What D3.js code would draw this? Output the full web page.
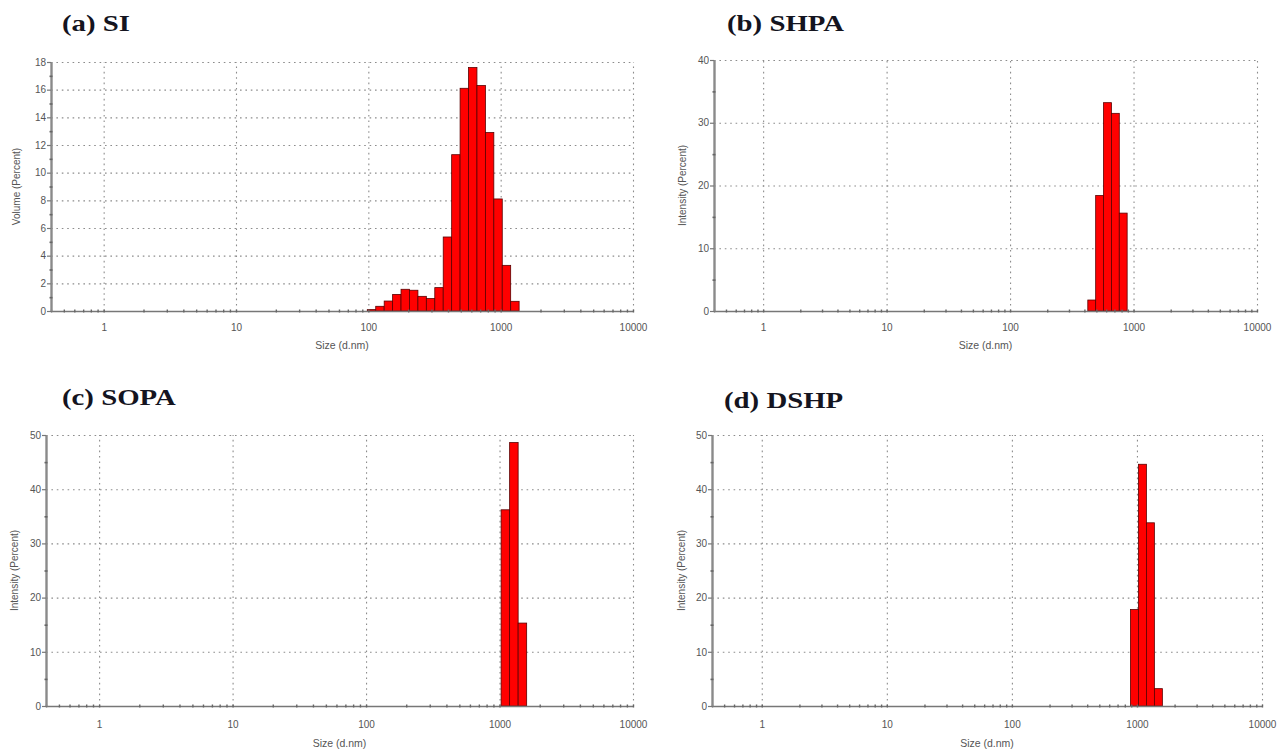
<!DOCTYPE html>
<html>
<head>
<meta charset="utf-8">
<script src="https://cdn.jsdelivr.net/npm/d3@7"></script>
<style>
  html, body { margin: 0; padding: 0; background: #fff; }
  svg { display: block; }
  .tick text { font-family: "Liberation Sans", Arial, sans-serif; font-size: 10px; fill: #555; }
</style>
</head>
<body>
<svg id="chart" width="1288" height="751"></svg>
<script>
// ---------------- DATA ----------------
const xTickValues = [1, 10, 100, 1000, 10000];
const xTickLabels = ["1", "10", "100", "1000", "10000"];
const xDomain = [0.4, 10000];

// (a) SI - Volume (Percent)
const siSizes  = [105.7, 122.4, 141.8, 164.2, 190.1, 220.2, 255.0, 295.3, 342.0, 396.1, 458.7, 531.2, 615.1, 712.4, 825.0, 955.4, 1106, 1281];
const siValues = [0.1, 0.34, 0.72, 1.2, 1.57, 1.5, 1.06, 0.9, 1.69, 5.35, 11.3, 16.1, 17.6, 16.3, 12.9, 8.1, 3.3, 0.7];
const siYTicks = [0, 2, 4, 6, 8, 10, 12, 14, 16, 18];

// (b) SHPA - Intensity (Percent)
const shpaSizes  = [458.7, 531.2, 615.1, 712.4, 825.0];
const shpaValues = [1.75, 18.4, 33.2, 31.5, 15.6];
const shpaYTicks = [0, 10, 20, 30, 40];

// (c) SOPA - Intensity (Percent)
const sopaSizes  = [1106, 1281, 1484];
const sopaValues = [36.2, 48.6, 15.3];
const sopaYTicks = [0, 10, 20, 30, 40, 50];

// (d) DSHP - Intensity (Percent)
const dshpSizes  = [955.4, 1106, 1281, 1484];
const dshpValues = [17.8, 44.6, 33.8, 3.2];
const dshpYTicks = [0, 10, 20, 30, 40, 50];

const titles = ["(a) SI", "(b) SHPA", "(c) SOPA", "(d) DSHP"];
const yTitles = ["Volume (Percent)", "Intensity (Percent)", "Intensity (Percent)", "Intensity (Percent)"];
const xTitle = "Size (d.nm)";

// ---------------- LAYOUT ----------------
const panels = [
  { sizes: siSizes,   values: siValues,   yTicks: siYTicks,   x0: 51,  x1: 633,  yTop: 62,  yBot: 311, titleX: 62,  titleY: 31,  yTitleX: 16,  tickLabY: 328, xTitleY: 349 },
  { sizes: shpaSizes, values: shpaValues, yTicks: shpaYTicks, x0: 714, x1: 1257, yTop: 60,  yBot: 311, titleX: 727, titleY: 31,  yTitleX: 682, tickLabY: 328, xTitleY: 349 },
  { sizes: sopaSizes, values: sopaValues, yTicks: sopaYTicks, x0: 46,  x1: 633,  yTop: 435, yBot: 706, titleX: 62,  titleY: 405, yTitleX: 14,  tickLabY: 725, xTitleY: 747 },
  { sizes: dshpSizes, values: dshpValues, yTicks: dshpYTicks, x0: 712, x1: 1262, yTop: 435, yBot: 706, titleX: 724, titleY: 408, yTitleX: 681, tickLabY: 725, xTitleY: 747 }
];

const binRatio = Math.pow(10, (Math.log10(10000) - Math.log10(0.4)) / 69);
const svg = d3.select("#chart");

panels.forEach((p, i) => {
  const g = svg.append("g");
  const x = d3.scaleLog().domain(xDomain).range([p.x0, p.x1]);
  const yMax = p.yTicks[p.yTicks.length - 1];
  const y = d3.scaleLinear().domain([0, yMax]).range([p.yBot, p.yTop]);
  const step = p.yTicks[1] - p.yTicks[0];
  const yMinor = p.yTicks.slice(0, -1).map(v => v + step / 2);

  // horizontal gridlines
  g.append("g")
    .attr("transform", `translate(${p.x0},0)`)
    .call(d3.axisLeft(y).tickValues(p.yTicks.slice(1)).tickSize(-(p.x1 - p.x0)).tickFormat(""))
    .call(s => s.select(".domain").remove())
    .call(s => s.selectAll("line").attr("stroke", "#8c8c8c").attr("stroke-width", 1.1).attr("stroke-dasharray", "1.6,3.8"));

  // vertical gridlines
  g.append("g")
    .attr("transform", `translate(0,${p.yBot})`)
    .call(d3.axisBottom(x).tickValues(xTickValues).tickSize(-(p.yBot - p.yTop)).tickFormat(""))
    .call(s => s.select(".domain").remove())
    .call(s => s.selectAll("line").attr("stroke", "#8c8c8c").attr("stroke-width", 1.1).attr("stroke-dasharray", "1.6,3.8"));

  // bars
  g.append("g").selectAll("rect")
    .data(p.sizes.map((s, k) => ({ s, v: p.values[k] })))
    .join("rect")
    .attr("x", d => x(d.s / Math.sqrt(binRatio)))
    .attr("width", d => x(d.s * Math.sqrt(binRatio)) - x(d.s / Math.sqrt(binRatio)))
    .attr("y", d => y(d.v))
    .attr("height", d => y(0) - y(d.v))
    .attr("fill", "#ff0000")
    .attr("stroke", "#5a0000")
    .attr("stroke-width", 0.8);

  // x axis (baseline) with minor log ticks
  const minorX = [];
  [0.1, 1, 10, 100, 1000].forEach(dec => { for (let m = 2; m <= 9; m++) { const v = dec * m; if (v >= 0.4 && v <= 10000) minorX.push(v); } });
  const xAxisG = g.append("g").attr("transform", `translate(0,${p.yBot})`);
  xAxisG.call(d3.axisBottom(x).tickValues(minorX).tickSize(3).tickSizeOuter(0).tickFormat(""))
    .call(s => s.select(".domain").attr("stroke", "#777").attr("stroke-width", 1.6))
    .call(s => s.selectAll(".tick line").attr("stroke", "#666").attr("stroke-width", 1.4).attr("y1", -1.5).attr("y2", 1.5));
  g.append("g").attr("transform", `translate(0,${p.yBot})`)
    .call(d3.axisBottom(x).tickValues(xTickValues).tickSize(3).tickSizeOuter(0).tickFormat((d, k) => xTickLabels[k]))
    .call(s => s.select(".domain").remove())
    .call(s => s.selectAll(".tick line").attr("stroke", "#666").attr("stroke-width", 1.4).attr("y1", -1.5).attr("y2", 1.5))
    .call(s => s.selectAll(".tick text").attr("y", p.tickLabY - p.yBot).attr("dy", "0.32em"));

  // y axis
  g.append("g").attr("transform", `translate(${p.x0},0)`)
    .call(d3.axisLeft(y).tickValues(p.yTicks).tickSize(4).tickSizeOuter(0).tickFormat(d3.format("d")))
    .call(s => s.select(".domain").attr("stroke", "#8a8a8a").attr("stroke-width", 2.4))
    .call(s => s.selectAll(".tick line").attr("stroke", "#777").attr("stroke-width", 1.2))
    .call(s => s.selectAll(".tick text").attr("x", -5));
  g.append("g").attr("transform", `translate(${p.x0},0)`)
    .call(d3.axisLeft(y).tickValues(yMinor).tickSize(3).tickFormat(""))
    .call(s => s.select(".domain").remove())
    .call(s => s.selectAll(".tick line").attr("stroke", "#666").attr("stroke-width", 1.6).attr("x1", 1.5).attr("x2", -1.5));

  // axis titles
  g.append("text")
    .attr("transform", `translate(${p.yTitleX},${(p.yTop + p.yBot) / 2}) rotate(-90)`)
    .attr("text-anchor", "middle").attr("dy", "0.35em")
    .style("font-family", '"Liberation Sans", Arial, sans-serif').style("font-size", "10px").style("fill", "#555")
    .text(yTitles[i]);
  g.append("text")
    .attr("x", (p.x0 + p.x1) / 2).attr("y", p.xTitleY)
    .attr("text-anchor", "middle")
    .style("font-family", '"Liberation Sans", Arial, sans-serif').style("font-size", "10.5px").style("fill", "#555")
    .text(xTitle);

  // panel title (slightly wide serif, as in the reference)
  g.append("text")
    .attr("transform", `translate(${p.titleX},${p.titleY}) scale(1.2,1)`)
    .style("font-family", '"Liberation Serif", "Times New Roman", serif').style("font-weight", "bold")
    .style("font-size", "24px").style("fill", "#141420")
    .text(titles[i]);
});
</script>
</body>
</html>
